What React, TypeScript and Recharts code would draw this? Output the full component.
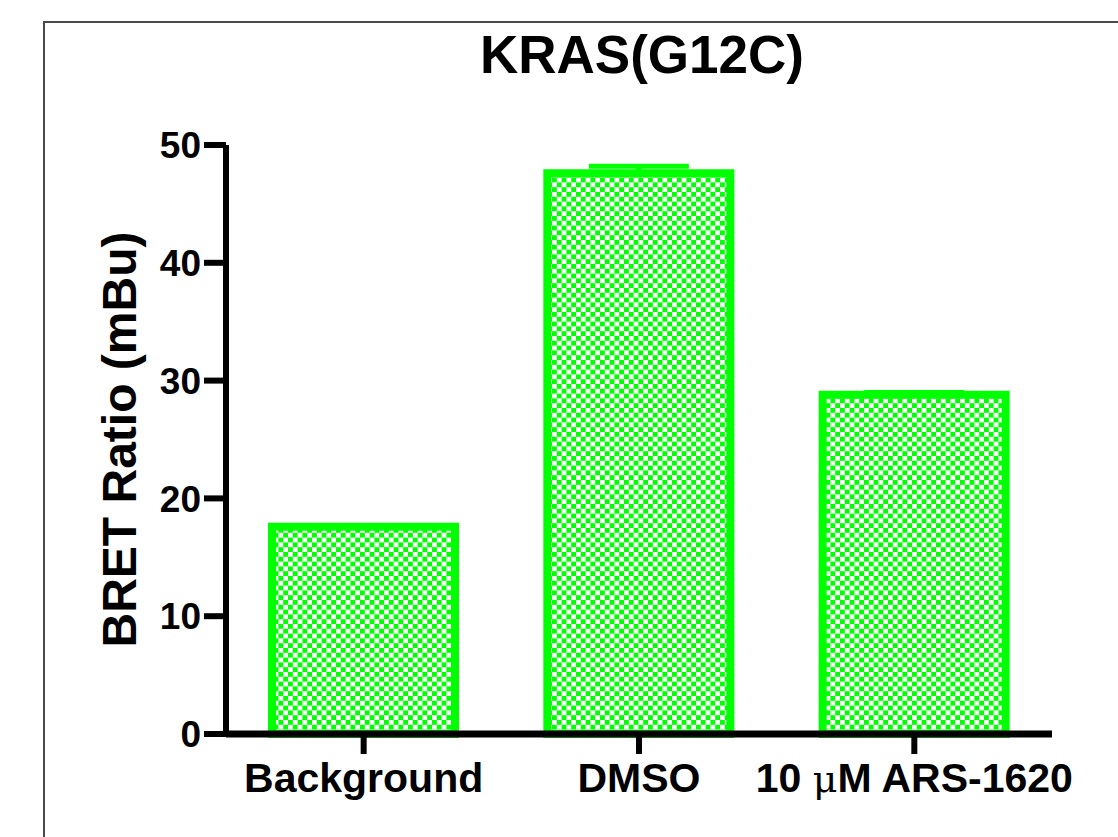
import { Bar, BarChart, ErrorBar, XAxis, YAxis } from "recharts";

const categories = ["Background", "DMSO", "10 μM ARS-1620"];
const bretRatio = [17.6, 47.6, 28.8];
const upperError = [0.1, 0.6, 0.2];
const yTicks = [0, 10, 20, 30, 40, 50];

const GREEN = "#00ff00";
const FONT = "'Liberation Sans', Arial, sans-serif";

const chartData = categories.map((name, i) => ({
  name,
  value: bretRatio[i],
  err: [0, upperError[i]],
}));

function CategoryTick({ x, y, payload }: any) {
  const label: string = payload.value;
  const muIdx = label.indexOf("μ");
  return (
    <text x={x} y={y} dy={38} textAnchor="middle" fill="#000" fontFamily={FONT} fontWeight="bold" fontSize={41}>
      {muIdx < 0 ? (
        label
      ) : (
        <>
          <tspan>{label.slice(0, muIdx)}</tspan>
          <tspan fontWeight="normal" fontFamily="'DejaVu Serif', serif" fontSize={38}>μ</tspan>
          <tspan>{label.slice(muIdx + 1)}</tspan>
        </>
      )}
    </text>
  );
}

function YTitle({ viewBox }: any) {
  const cx = 136;
  const cy = viewBox.y + viewBox.height / 2;
  return (
    <text
      x={cx}
      y={cy}
      transform={`rotate(-90 ${cx} ${cy})`}
      textAnchor="middle"
      fill="#000"
      fontFamily={FONT}
      fontWeight="bold"
      fontSize={48}
    >
      BRET Ratio (mBu)
    </text>
  );
}

export default function App() {
  return (
    <div style={{ position: "absolute", left: 0, top: 0, width: 1118, height: 837, background: "#fff", overflow: "hidden" }}>
      {/* frame from the original figure panel */}
      <div style={{ position: "absolute", left: 43, top: 21, right: -10, bottom: -10, borderLeft: "2px solid #4a4a4a", borderTop: "2px solid #4a4a4a" }} />
      <div
        style={{
          position: "absolute", left: 226, width: 832, top: 28, textAlign: "center",
          fontFamily: FONT, fontWeight: "bold", fontSize: 53, lineHeight: "53px", color: "#000",
        }}
      >
        KRAS(G12C)
      </div>
      <div style={{ position: "absolute", left: 0, top: 0 }}>
        <BarChart
          width={1118}
          height={837}
          data={chartData}
          margin={{ top: 145, right: 66, bottom: 73, left: 0 }}
          barCategoryGap={46}
        >
          <defs>
            <pattern id="checker" width={9.6} height={9.6} patternUnits="userSpaceOnUse">
              <rect width={9.6} height={9.6} fill="#fff" />
              <rect width={4.8} height={4.8} fill={GREEN} />
              <rect x={4.8} y={4.8} width={4.8} height={4.8} fill={GREEN} />
            </pattern>
          </defs>
          <Bar dataKey="value" fill="url(#checker)" stroke={GREEN} strokeWidth={8} isAnimationActive={false}>
            <ErrorBar dataKey="err" direction="y" width={50} stroke={GREEN} strokeWidth={5} isAnimationActive={false} />
          </Bar>
          <XAxis
            dataKey="name"
            height={30}
            axisLine={{ stroke: "#000", strokeWidth: 7 }}
            tickLine={{ stroke: "#000", strokeWidth: 6 }}
            tickSize={20}
            tickMargin={0}
            tick={<CategoryTick />}
            interval={0}
          />
          <YAxis
            type="number"
            domain={[0, 50]}
            ticks={yTicks}
            width={226}
            axisLine={{ stroke: "#000", strokeWidth: 6 }}
            tickLine={{ stroke: "#000", strokeWidth: 6 }}
            tickSize={22}
            tickMargin={3}
            tick={{ fill: "#000", fontFamily: FONT, fontWeight: "bold", fontSize: 37 }}
            label={<YTitle />}
          />
        </BarChart>
      </div>
    </div>
  );
}
